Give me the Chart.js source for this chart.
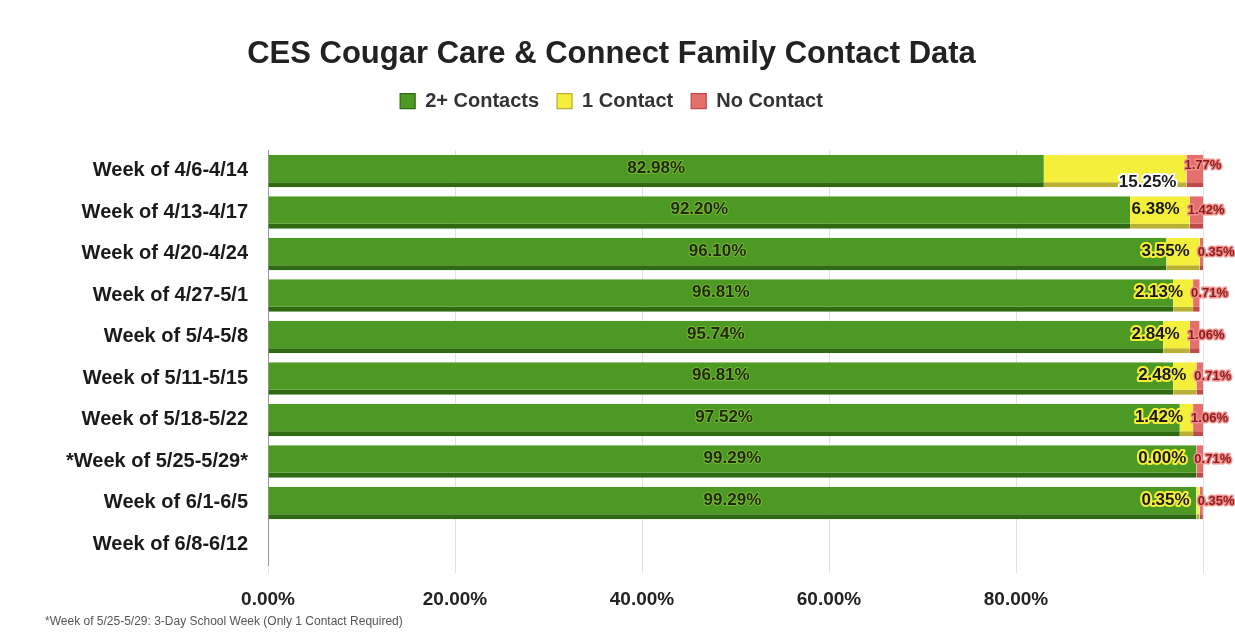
<!DOCTYPE html>
<html>
<head>
<meta charset="utf-8">
<script src="https://cdn.jsdelivr.net/npm/chart.js@4"></script>
<style>
  html, body { margin: 0; padding: 0; background: #fff; }
  #wrap { width: 1235px; height: 638px; }
</style>
</head>
<body>
<div id="wrap"><canvas id="contactChart" width="1235" height="638"></canvas></div>
<script>
const weeks = ['Week of 4/6-4/14', 'Week of 4/13-4/17', 'Week of 4/20-4/24', 'Week of 4/27-5/1',
  'Week of 5/4-5/8', 'Week of 5/11-5/15', 'Week of 5/18-5/22', '*Week of 5/25-5/29*',
  'Week of 6/1-6/5', 'Week of 6/8-6/12'];
const twoPlus = [82.98, 92.20, 96.10, 96.81, 95.74, 96.81, 97.52, 99.29, 99.29, null];
const oneContact = [15.25, 6.38, 3.55, 2.13, 2.84, 2.48, 1.42, 0.00, 0.35, null];
const noContact = [1.77, 1.42, 0.35, 0.71, 1.06, 0.71, 1.06, 0.71, 0.35, null];
const xTicks = [0, 20, 40, 60, 80];
const footnote = '*Week of 5/25-5/29: 3-Day School Week (Only 1 Contact Required)';

const FONT = '"Liberation Sans", Arial, sans-serif';

// push the plot a bit further down from the legend
const legendGap = {
  id: 'legendGap',
  beforeInit(chart) {
    const fit = chart.legend.fit;
    chart.legend.fit = function () {
      fit.bind(chart.legend)();
      this.height += 29;
    };
  }
};

function glowText(ctx, text, x, y, fill, glow, width) {
  ctx.lineJoin = 'round';
  ctx.strokeStyle = glow;
  ctx.lineWidth = width;
  ctx.strokeText(text, x, y);
  ctx.fillStyle = fill;
  ctx.fillText(text, x, y);
}

const barLabels = {
  id: 'barLabels',
  afterDatasetsDraw(chart) {
    const ctx = chart.ctx;
    ctx.save();
    ctx.textBaseline = 'middle';
    chart.data.datasets.forEach((ds, i) => {
      const meta = chart.getDatasetMeta(i);
      meta.data.forEach((bar, j) => {
        const v = ds.data[j];
        if (v === null || v === undefined) return;
        const txt = v.toFixed(2) + '%';
        if (i === 0) {
          ctx.font = 'bold 17px ' + FONT;
          ctx.textAlign = 'center';
          glowText(ctx, txt, (bar.base + bar.x) / 2, bar.y - 3, '#1e2a10', 'rgba(150,200,60,0.6)', 2);
        } else if (i === 1) {
          ctx.font = 'bold 17px ' + FONT;
          ctx.textAlign = 'right';
          const dy = j === 0 ? 11 : -3;
          glowText(ctx, txt, bar.x - 10, bar.y + dy, '#1a1a1a', j === 0 ? '#ffffff' : '#f3ef3b', 4);
        } else {
          ctx.font = 'bold 13px ' + FONT;
          ctx.textAlign = 'left';
          const dy = j === 0 ? -6 : -2;
          glowText(ctx, txt, bar.base - 2, bar.y + dy, '#8a1c1c', '#ef8d8a', 3);
        }
      });
    });
    ctx.restore();
  },
  afterDraw(chart) {
    const ctx = chart.ctx;
    ctx.save();
    ctx.font = '12px ' + FONT;
    ctx.fillStyle = '#555';
    ctx.textAlign = 'left';
    ctx.textBaseline = 'middle';
    ctx.fillText(footnote, 45, 622);
    ctx.restore();
  }
};

const ctx = document.getElementById('contactChart').getContext('2d');

const contactChart = new Chart(ctx, {
  type: 'bar',
  data: {
    labels: weeks,
    datasets: [
      {
        label: '2+ Contacts',
        data: twoPlus,
        backgroundColor: '#4c9a23',
        borderColor: '#2f6912',
        borderWidth: { top: 0, left: 0, right: 0, bottom: 5 },
        borderSkipped: false
      },
      {
        label: '1 Contact',
        data: oneContact,
        backgroundColor: '#f3ef3b',
        borderColor: '#b9b034',
        borderWidth: { top: 0, left: 0, right: 0, bottom: 5 },
        borderSkipped: false
      },
      {
        label: 'No Contact',
        data: noContact,
        backgroundColor: '#e46f6c',
        borderColor: '#bf4a4a',
        borderWidth: { top: 0, left: 0, right: 0, bottom: 5 },
        borderSkipped: false
      }
    ]
  },
  options: {
    indexAxis: 'y',
    responsive: false,
    animation: false,
    barPercentage: 0.78,
    categoryPercentage: 1,
    layout: { padding: { top: 26, left: 20, right: 32, bottom: 12 } },
    plugins: {
      title: {
        display: true,
        text: 'CES Cougar Care & Connect Family Contact Data',
        color: '#222',
        font: { family: FONT, size: 31, weight: 'bold' },
        padding: { top: 10, bottom: 0 }
      },
      legend: {
        position: 'top',
        labels: {
          color: '#333',
          boxWidth: 15,
          boxHeight: 15,
          padding: 18,
          font: { family: FONT, size: 20, weight: 'bold' }
        }
      },
      tooltip: { enabled: false }
    },
    scales: {
      x: {
        stacked: true,
        min: 0,
        max: 100,
        afterBuildTicks: (axis) => {
          axis.ticks = xTicks.concat([100]).map(v => ({ value: v }));
        },
        ticks: {
          color: '#222',
          padding: 15,
          font: { family: FONT, size: 19, weight: 'bold' },
          callback: (value) => xTicks.includes(value) ? value.toFixed(2) + '%' : ''
        },
        grid: { color: '#e2e2e2', tickLength: 8 },
        border: { display: false }
      },
      y: {
        stacked: true,
        afterFit: (axis) => { axis.width = 248; },
        ticks: {
          color: '#1a1a1a',
          padding: 12,
          font: { family: FONT, size: 20, weight: 'bold' }
        },
        grid: { display: false },
        border: { display: true, color: '#999' }
      }
    }
  },
  plugins: [legendGap, barLabels]
});
</script>
</body>
</html>
